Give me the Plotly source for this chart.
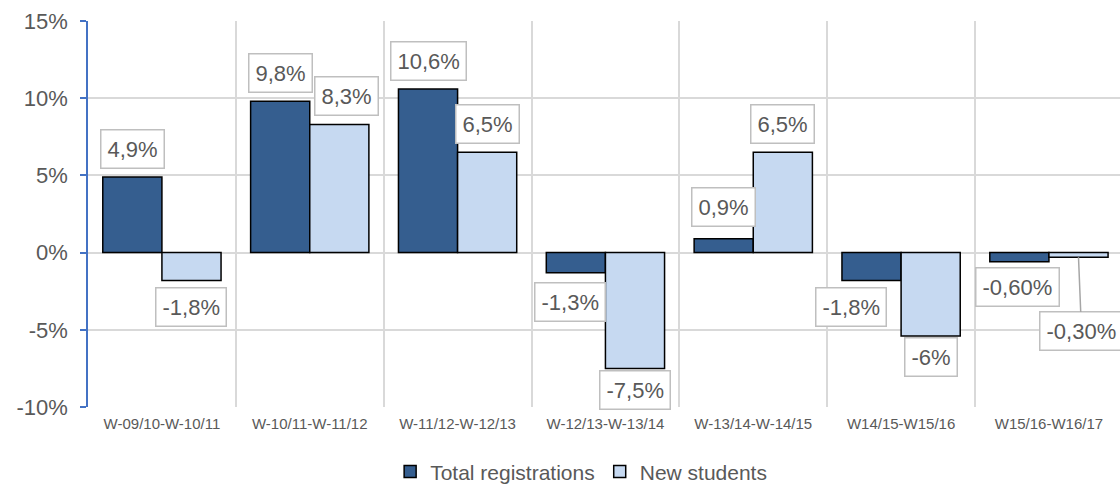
import plotly.graph_objects as go

categories = ["W-09/10-W-10/11", "W-10/11-W-11/12", "W-11/12-W-12/13", "W-12/13-W-13/14",
              "W-13/14-W-14/15", "W14/15-W15/16", "W15/16-W16/17"]
total_registrations = [4.9, 9.8, 10.6, -1.3, 0.9, -1.8, -0.6]
new_students = [-1.8, 8.3, 6.5, -7.5, 6.5, -5.4, -0.3]
total_labels = ["4,9%", "9,8%", "10,6%", "-1,3%", "0,9%", "-1,8%", "-0,60%"]
new_labels = ["-1,8%", "8,3%", "6,5%", "-7,5%", "6,5%", "-6%", "-0,30%"]
y_ticks = [-10, -5, 0, 5, 10, 15]

# label placement tweaks (pixels)
total_dx = [0, 0, 0, -6, 0, -21, -2]
new_dx = [0, 7, 0, 0, 0, 0, 0]
total_dy = [0, 0, 0, -2, 4, 0, 2]
new_dy = [0, 0, 0, 5, 0, 6, 0]

DARK = "#355e8f"
LIGHT = "#c6d9f1"
TXT = "#595959"
FONT = "Arial, Liberation Sans, sans-serif"

fig = go.Figure()
fig.add_bar(x=categories, y=total_registrations, name="Total registrations",
            marker=dict(color=DARK, line=dict(color="#000000", width=1.5)))
fig.add_bar(x=categories, y=new_students, name="New students",
            marker=dict(color=LIGHT, line=dict(color="#000000", width=1.5)))

annotations = []
for series, labels, off, dxs, dys in ((total_registrations, total_labels, -0.2, total_dx, total_dy),
                                      (new_students, new_labels, 0.2, new_dx, new_dy)):
    for i, (v, lab) in enumerate(zip(series, labels)):
        ann = dict(x=i + off, y=v, xref="x", yref="y", text=lab,
                   font=dict(size=22, color=TXT, family=FONT),
                   bgcolor="white", bordercolor="#bfbfbf", borderwidth=1.5, borderpad=6,
                   xshift=dxs[i], showarrow=False)
        if lab == "-0,30%":
            ann.update(showarrow=True, arrowhead=0, arrowcolor="#a6a6a6", arrowwidth=1.5,
                       ax=3, ay=74, xshift=0, standoff=0)
        elif v >= 0:
            ann.update(yanchor="bottom", yshift=8 + dys[i])
        else:
            ann.update(yanchor="top", yshift=-7 + dys[i])
        annotations.append(ann)

fig.update_layout(
    width=1124, height=486,
    margin=dict(l=88, r=0, t=21, b=79, autoexpand=False),
    paper_bgcolor="white", plot_bgcolor="white",
    barmode="group", bargap=0.2, bargroupgap=0,
    font=dict(family=FONT, color=TXT),
    annotations=annotations,
    showlegend=True,
    legend=dict(orientation="h", x=0.476, xanchor="center", y=-0.168, yanchor="middle",
                font=dict(size=21, color=TXT), itemwidth=30),
    xaxis=dict(type="category", tickson="boundaries", showgrid=True, gridcolor="#d9d9d9",
               gridwidth=1.5, ticks="", tickfont=dict(size=15, color=TXT), showline=False,
               zeroline=False, automargin=False, ticklabelstandoff=6),
    yaxis=dict(range=[-10, 15], tickvals=y_ticks, ticktext=[f"{t}%" for t in y_ticks],
               showgrid=True, gridcolor="#d9d9d9", gridwidth=1.5,
               zeroline=True, zerolinecolor="#d9d9d9", zerolinewidth=1.5,
               showline=True, linecolor="#4472c4", linewidth=1.5,
               ticks="outside", ticklen=6, tickcolor="#4472c4", tickwidth=1.5,
               tickfont=dict(size=22, color=TXT), ticklabelstandoff=8, automargin=False),
)

fig.write_html("out.html", config={"displayModeBar": False},
               post_script="document.body.style.margin='0';document.body.style.overflow='hidden';")
